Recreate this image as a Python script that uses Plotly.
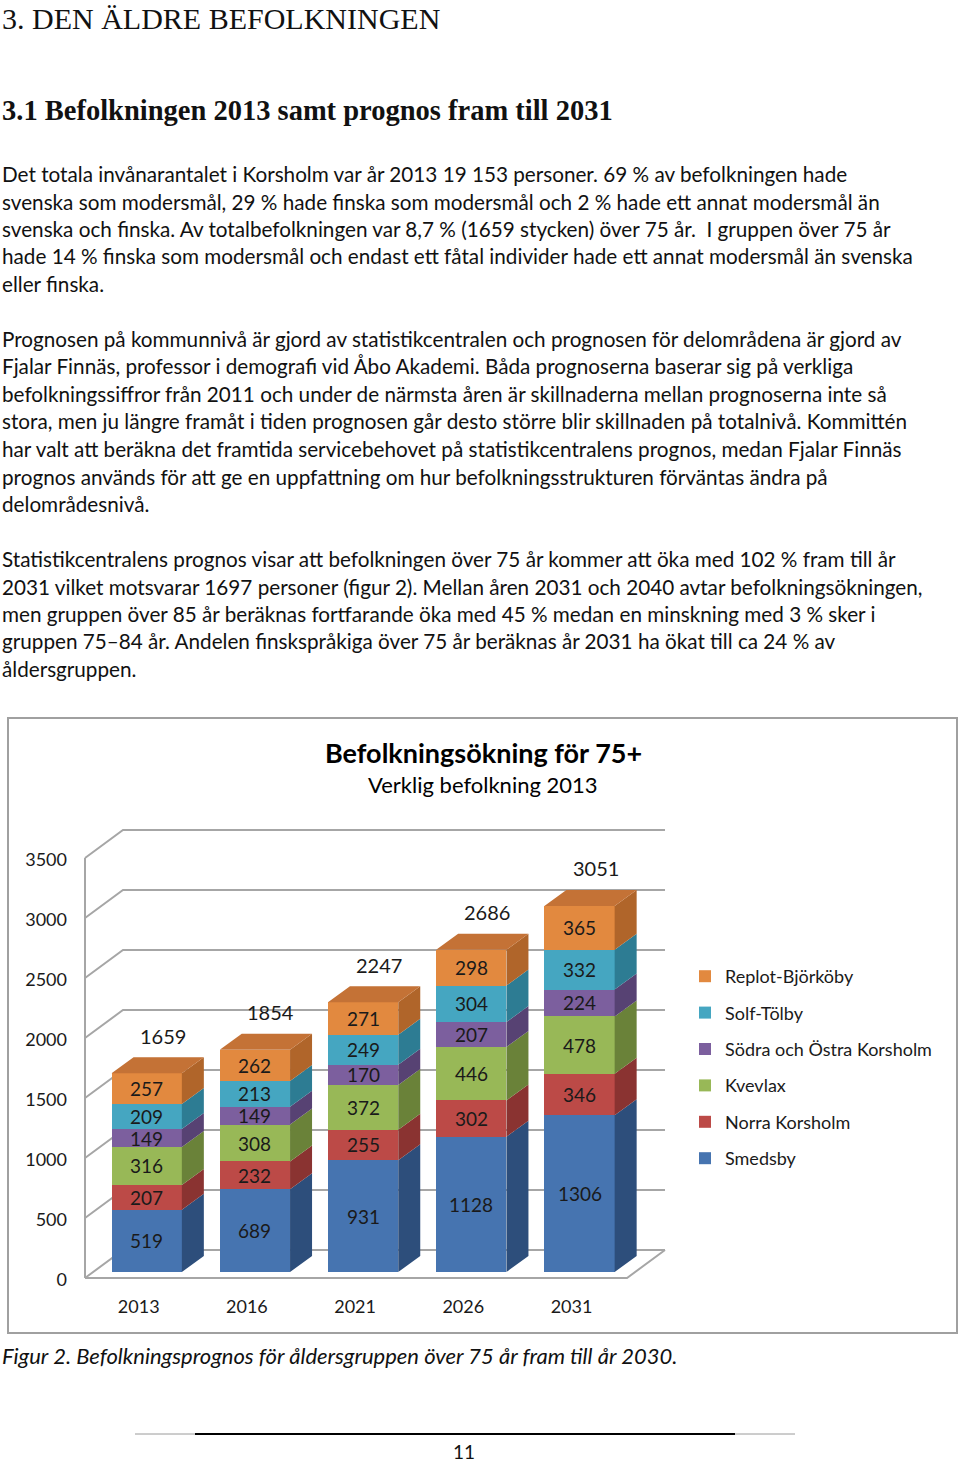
import plotly.graph_objects as go

# ---------------- data ----------------
years = ["2013", "2016", "2021", "2026", "2031"]
smedsby = [519, 689, 931, 1128, 1306]
norra_korsholm = [207, 232, 255, 302, 346]
kvevlax = [316, 308, 372, 446, 478]
sodra_ostra = [149, 149, 170, 207, 224]
solf_tolby = [209, 213, 249, 304, 332]
replot_bjorkoby = [257, 262, 271, 298, 365]
totals = [1659, 1854, 2247, 2686, 3051]
y_ticks = [0, 500, 1000, 1500, 2000, 2500, 3000, 3500]

series = [
    ("Smedsby", smedsby, "#4674B0", "#2D4E7B"),
    ("Norra Korsholm", norra_korsholm, "#BC4A47", "#8A3331"),
    ("Kvevlax", kvevlax, "#98B857", "#6A8239"),
    ("Södra och Östra Korsholm", sodra_ostra, "#7C5F9E", "#574273"),
    ("Solf-Tölby", solf_tolby, "#45A6C1", "#2D7C93"),
    ("Replot-Björköby", replot_bjorkoby, "#E2893F", "#B0652A"),
]
TOP_COLOR = "#C47236"

# ---------------- page geometry ----------------
W, H = 960, 1464
def py(p):
    return 1 - p / H
def pxf(p):
    return p / W

# chart geometry (pixels)
CAT0_PX = 146.7      # centre of first bar front face
CAT_STEP = 108.2     # px between categories
BASE_PX = 1272.0     # value 0 of bar front faces
PX_PER_UNIT = 0.12   # px per person
BAR_W = 70.3 / CAT_STEP
DX = 22 / CAT_STEP               # bar depth, horizontal (x units)
DY = 16 / PX_PER_UNIT            # bar depth, vertical (value units)
x_range = [-CAT0_PX / CAT_STEP, (W - CAT0_PX) / CAT_STEP]
y_range = [(BASE_PX - H) / PX_PER_UNIT, BASE_PX / PX_PER_UNIT]

FRONT_L = (85 - CAT0_PX) / CAT_STEP
FRONT_R = (627 - CAT0_PX) / CAT_STEP
BACK_L = (123 - CAT0_PX) / CAT_STEP
BACK_R = (665 - CAT0_PX) / CAT_STEP
FRONT_OFF = (BASE_PX - 1278) / PX_PER_UNIT
BACK_OFF = (BASE_PX - 1250) / PX_PER_UNIT

xs = list(range(len(years)))
FONT = "Lato"
TXT = "#1a1a1a"
BODY = 20.7

fig = go.Figure()

# front faces
n = len(series)
for k, (name, vals, front, side) in enumerate(series):
    fig.add_trace(go.Bar(
        x=xs, y=vals, width=BAR_W, name=name, legendgroup=name, legendrank=n - k,
        marker=dict(color=front, line=dict(width=0)), hoverinfo="skip",
    ))

# side and top faces
base = [0] * len(xs)
for si, (name, vals, front, side) in enumerate(series):
    sx, sy = [], []
    for i, v in enumerate(vals):
        b, t = base[i], base[i] + v
        r = i + BAR_W / 2
        sx += [r, r + DX, r + DX, r, r, None]
        sy += [b, b + DY, t + DY, t, b, None]
    fig.add_trace(go.Scatter(x=sx, y=sy, mode="lines", fill="toself", fillcolor=side,
                             line=dict(width=0), showlegend=False, hoverinfo="skip"))
    base = [base[i] + vals[i] for i in range(len(xs))]

tx, ty = [], []
for i, t in enumerate(base):
    l, r = i - BAR_W / 2, i + BAR_W / 2
    tx += [l, l + DX, r + DX, r, l, None]
    ty += [t, t + DY, t + DY, t, t, None]
fig.add_trace(go.Scatter(x=tx, y=ty, mode="lines", fill="toself", fillcolor=TOP_COLOR,
                         line=dict(width=0), showlegend=False, hoverinfo="skip"))

# walls / gridlines as shapes below traces
GRID = "#A6A6A6"
shapes = []
for v in y_ticks:
    path = (f"M {FRONT_L},{v + FRONT_OFF} L {BACK_L},{v + BACK_OFF} "
            f"L {BACK_R},{v + BACK_OFF}")
    shapes.append(dict(type="path", path=path, xref="x", yref="y", layer="below",
                       line=dict(color=GRID, width=2)))
shapes.append(dict(type="line", xref="x", yref="y", layer="below",
                   x0=FRONT_L, x1=FRONT_L, y0=FRONT_OFF, y1=y_ticks[-1] + FRONT_OFF,
                   line=dict(color=GRID, width=2)))
shapes.append(dict(type="path", xref="x", yref="y", layer="below",
                   path=f"M {FRONT_L},{FRONT_OFF} L {FRONT_R},{FRONT_OFF} L {BACK_R},{BACK_OFF}",
                   line=dict(color=GRID, width=2)))
# chart border
shapes.append(dict(type="rect", xref="paper", yref="paper", x0=pxf(8), x1=pxf(957),
                   y0=py(1333), y1=py(718), line=dict(color="#A0A0A0", width=2)))
# footer rule
shapes.append(dict(type="line", xref="paper", yref="paper", x0=pxf(135), x1=pxf(795),
                   y0=py(1434), y1=py(1434), line=dict(color="#9A9A9A", width=1)))
shapes.append(dict(type="line", xref="paper", yref="paper", x0=pxf(195), x1=pxf(735),
                   y0=py(1434), y1=py(1434), line=dict(color="#000000", width=2)))

ann = []
# segment labels
base = [0] * len(xs)
for name, vals, front, side in series:
    for i, v in enumerate(vals):
        ann.append(dict(x=i, y=base[i] + v / 2, xref="x", yref="y", text=str(v),
                        showarrow=False, font=dict(family=FONT, size=19, color=TXT)))
    base = [base[i] + vals[i] for i in range(len(xs))]
# totals
TOTAL_SHIFT = 5 / CAT_STEP
for i, t in enumerate(totals):
    ann.append(dict(x=i + DX / 2 + TOTAL_SHIFT, y=base[i] + DY + 180, xref="x", yref="y",
                    text=str(t), showarrow=False,
                    font=dict(family=FONT, size=20, color=TXT)))

def line(text, x, y, size=BODY, family=FONT, color="#111111", anchor="left"):
    ann.append(dict(text=text, x=pxf(x), y=py(y), xref="paper", yref="paper",
                    xanchor=anchor, yanchor="middle", showarrow=False,
                    font=dict(family=family, size=size, color=color)))

line("3. DEN ÄLDRE BEFOLKNINGEN", 0, 19, size=30, family="Liberation Serif")
line("<b>3.1 Befolkningen 2013 samt prognos fram till 2031</b>", 0, 111, size=28.5,
     family="Liberation Serif")

p1 = [
    "Det totala invånarantalet i Korsholm var år 2013 19 153 personer. 69 % av befolkningen hade",
    "svenska som modersmål, 29 % hade finska som modersmål och 2 % hade ett annat modersmål än",
    "svenska och finska. Av totalbefolkningen var 8,7 % (1659 stycken) över 75 år.  I gruppen över 75 år",
    "hade 14 % finska som modersmål och endast ett fåtal individer hade ett annat modersmål än svenska",
    "eller finska.",
]
p2 = [
    "Prognosen på kommunnivå är gjord av statistikcentralen och prognosen för delområdena är gjord av",
    "Fjalar Finnäs, professor i demografi vid Åbo Akademi. Båda prognoserna baserar sig på verkliga",
    "befolkningssiffror från 2011 och under de närmsta åren är skillnaderna mellan prognoserna inte så",
    "stora, men ju längre framåt i tiden prognosen går desto större blir skillnaden på totalnivå. Kommittén",
    "har valt att beräkna det framtida servicebehovet på statistikcentralens prognos, medan Fjalar Finnäs",
    "prognos används för att ge en uppfattning om hur befolkningsstrukturen förväntas ändra på",
    "delområdesnivå.",
]
p3 = [
    "Statistikcentralens prognos visar att befolkningen över 75 år kommer att öka med 102 % fram till år",
    "2031 vilket motsvarar 1697 personer (figur 2). Mellan åren 2031 och 2040 avtar befolkningsökningen,",
    "men gruppen över 85 år beräknas fortfarande öka med 45 % medan en minskning med 3 % sker i",
    "gruppen 75–84 år. Andelen finskspråkiga över 75 år beräknas år 2031 ha ökat till ca 24 % av",
    "åldersgruppen.",
]
LH = 27.5
for k, t in enumerate(p1):
    line(t, 0, 174 + k * LH)
for k, t in enumerate(p2):
    line(t, 0, 339 + k * LH)
for k, t in enumerate(p3):
    line(t, 0, 559 + k * LH)

line("<b>Befolkningsökning för 75+</b>", 483, 752, size=27, anchor="center", color="#000000")
line("Verklig befolkning 2013", 483, 784, size=22, anchor="center", color="#000000")
line("<i>Figur 2. Befolkningsprognos för åldersgruppen över 75 år fram till år 2030.</i>", 0, 1355,
     size=22, color="#111111")
line("11", 464, 1451, size=19, anchor="center")

fig.update_layout(
    width=W, height=H, margin=dict(l=0, r=0, t=0, b=0),
    paper_bgcolor="white", plot_bgcolor="rgba(0,0,0,0)",
    barmode="stack", bargap=0,
    showlegend=True,
    legend=dict(x=pxf(685), y=py(958), xanchor="left", yanchor="top",
                traceorder="grouped", tracegroupgap=10,
                font=dict(family=FONT, size=18, color=TXT), bgcolor="rgba(0,0,0,0)"),
    xaxis=dict(range=x_range, domain=[0, 1], anchor="free", position=py(1278),
               tickvals=xs, ticktext=years, showgrid=False, zeroline=False, showline=False,
               ticks="", ticklabelstandoff=16, ticklabelshift=-8,
               tickfont=dict(family=FONT, size=18, color=TXT), fixedrange=True),
    yaxis=dict(range=y_range, domain=[0, 1], anchor="free", position=pxf(85),
               tickvals=y_ticks, ticktext=[str(v) for v in y_ticks],
               showgrid=False, zeroline=False, showline=False, ticks="",
               ticklabelstandoff=18, ticklabelshift=8,
               tickfont=dict(family=FONT, size=18, color=TXT), fixedrange=True),
    shapes=shapes, annotations=ann,
    hovermode=False,
)

fig.write_html("out.html", config={"displayModeBar": False},
               post_script="document.body.style.margin='0px';")
